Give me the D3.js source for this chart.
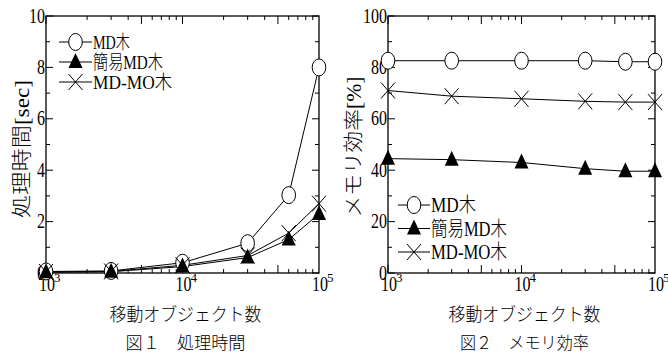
<!DOCTYPE html>
<html><head><meta charset="utf-8">
<script src="https://cdn.jsdelivr.net/npm/d3@7"></script>
<style>
body{margin:0;background:#fff}
text{font-family:"Liberation Serif","Noto Sans CJK JP",serif;font-weight:300;fill:#000}
</style>
</head><body><svg id="c" width="668" height="356"></svg>
<script>
// ---- data ----
const objectCounts = [1000, 3000, 10000, 30000, 60000, 100000];
const seriesNames = ["MD木", "簡易MD木", "MD-MO木"];
const timeMD     = [0.06, 0.08, 0.40, 1.16, 3.03, 8.0];
const timeSimple = [0.03, 0.05, 0.25, 0.60, 1.30, 2.30];
const timeMDMO   = [0.04, 0.06, 0.30, 0.68, 1.55, 2.70];
const memMD      = [82.6, 82.6, 82.6, 82.6, 82.2, 82.2];
const memSimple  = [44.5, 44.1, 43.0, 40.6, 39.6, 39.6];
const memMDMO    = [71.0, 68.8, 67.8, 66.8, 66.5, 66.5];
const timeTicks  = [0, 2, 4, 6, 8, 10];
const memTicks   = [0, 20, 40, 60, 80, 100];
const xExponents = [3, 4, 5];
const xAxisTitle = "移動オブジェクト数";
const timeTitle  = "処理時間[sec]";
const memTitle   = "メモリ効率[%]";
const caption1   = "図１　処理時間";
const caption2   = "図２　メモリ効率";

const svg = d3.select("#c");
const markerTypes = ["circle", "triangle", "cross"];

function drawMarker(g, type, x, y) {
  if (type === "circle") {
    g.append("ellipse").attr("cx", x).attr("cy", y).attr("rx", 6.8).attr("ry", 8.5)
      .attr("fill", "#fff").attr("stroke", "#000").attr("stroke-width", 1);
  } else if (type === "triangle") {
    g.append("path").attr("d", `M${x},${y-9}L${x-7},${y+6}L${x+7},${y+6}Z`).attr("fill", "#000");
  } else {
    g.append("path").attr("d", `M${x-7},${y-8}L${x+7},${y+8}M${x+7},${y-8}L${x-7},${y+8}`)
      .attr("stroke", "#000").attr("stroke-width", 1).attr("fill", "none");
  }
}

function chart(opt) {
  const g = svg.append("g");
  const x = d3.scaleLog().domain([1e3, 1e5]).range([opt.left, opt.right]);
  const y = d3.scaleLinear().domain([0, opt.ymax]).range([273, 16]);
  const [x0, x1] = x.range(), [y0, y1] = y.range();

  // x ticks (inward, bottom and top)
  const xt = [];
  for (let e = 3; e < 5; e++) for (let m = 1; m <= 9; m++) xt.push({v: m * Math.pow(10, e), long: m === 1 || m === 5});
  xt.forEach(t => {
    const px = x(t.v), len = t.long ? 8 : 4;
    g.append("line").attr("x1", px).attr("x2", px).attr("y1", y0).attr("y2", y0 - len).attr("stroke", "#000");
    g.append("line").attr("x1", px).attr("x2", px).attr("y1", y1).attr("y2", y1 + len).attr("stroke", "#000");
  });
  // y ticks (inward, left and right)
  const step = opt.ymax / 10;
  d3.range(0, opt.ymax + step / 2, step).forEach((v, i) => {
    const py = y(v), len = i % 2 === 0 ? 7 : 4;
    g.append("line").attr("x1", x0).attr("x2", x0 + len).attr("y1", py).attr("y2", py).attr("stroke", "#000");
    g.append("line").attr("x1", x1).attr("x2", x1 - len).attr("y1", py).attr("y2", py).attr("stroke", "#000");
  });
  // frame
  g.append("rect").attr("x", x0).attr("y", y1).attr("width", x1 - x0).attr("height", y0 - y1)
    .attr("fill", "none").attr("stroke", "#000").attr("stroke-width", 1.3);

  // y tick labels
  opt.yTicks.forEach(v => {
    const s = String(v);
    g.append("text").attr("x", x0 - 1).attr("y", y(v) - 1).attr("text-anchor", "end")
      .attr("dominant-baseline", "central").attr("font-size", 22)
      .attr("textLength", s.length * 8).attr("lengthAdjust", "spacingAndGlyphs").text(s);
  });
  // x tick labels 10^n
  xExponents.forEach(e => {
    const px = x(Math.pow(10, e));
    g.append("text").attr("x", px - 7).attr("y", 291).attr("font-size", 22)
      .attr("textLength", 16).attr("lengthAdjust", "spacingAndGlyphs").text("10");
    g.append("text").attr("x", px + 8).attr("y", 282).attr("font-size", 13).text(String(e));
  });

  // series
  opt.series.forEach((vals, si) => {
    const pts = objectCounts.map((c, i) => [x(c), y(vals[i])]);
    g.append("path").attr("d", d3.line()(pts)).attr("fill", "none").attr("stroke", "#000").attr("stroke-width", 1);
  });
  opt.series.forEach((vals, si) => {
    objectCounts.forEach((c, i) => drawMarker(g, markerTypes[si], x(c), y(vals[i])));
  });

  // legend
  seriesNames.forEach((name, i) => {
    const ly = opt.legY + i * opt.legStep;
    g.append("line").attr("x1", opt.legX).attr("x2", opt.legX + opt.legLine).attr("y1", ly).attr("y2", ly)
      .attr("stroke", "#000").attr("stroke-width", 1);
    drawMarker(g, markerTypes[i], opt.legX + opt.legLine / 2, ly);
    g.append("text").attr("x", opt.legX + opt.legLine + 1).attr("y", ly).attr("dominant-baseline", "central")
      .attr("font-size", opt.legFont).attr("textLength", opt.legLens[i]).attr("lengthAdjust", "spacingAndGlyphs").text(name);
  });

  // titles
  const cx = (x0 + x1) / 2;
  g.append("text").attr("x", cx + 3).attr("y", 315).attr("text-anchor", "middle").attr("dominant-baseline", "central")
    .attr("font-size", 18).attr("textLength", 152).attr("lengthAdjust", "spacingAndGlyphs").text(xAxisTitle);
  g.append("text").attr("x", cx + 3).attr("y", 343).attr("text-anchor", "middle").attr("dominant-baseline", "central")
    .attr("font-size", 17).attr("textLength", opt.capLen).attr("lengthAdjust", "spacingAndGlyphs").text(opt.caption);
  g.append("text").attr("transform", `translate(${opt.ylabX},${opt.ylabY}) rotate(-90)`)
    .attr("text-anchor", "middle").attr("dominant-baseline", "central")
    .attr("font-size", 20).attr("textLength", opt.ylabLen).attr("lengthAdjust", "spacingAndGlyphs").text(opt.ylab);
}

chart({left: 46, right: 319, ymax: 10, yTicks: timeTicks, series: [timeMD, timeSimple, timeMDMO],
  legX: 59, legY: 42, legStep: 20, legLine: 33, legFont: 19, legLens: [37, 70, 79],
  caption: caption1, capLen: 120, ylab: timeTitle, ylabX: 22, ylabY: 149, ylabLen: 138});
chart({left: 388, right: 655, ymax: 100, yTicks: memTicks, series: [memMD, memSimple, memMDMO],
  legX: 398, legY: 205, legStep: 23.5, legLine: 32, legFont: 20, legLens: [45, 76, 76],
  caption: caption2, capLen: 129, ylab: memTitle, ylabX: 354, ylabY: 147, ylabLen: 141});
</script>
</body></html>
